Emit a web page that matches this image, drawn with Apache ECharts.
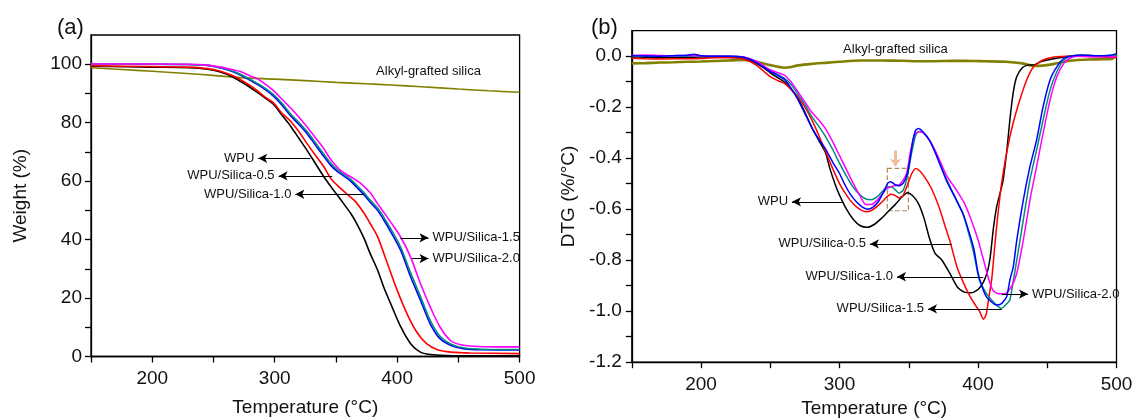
<!DOCTYPE html>
<html>
<head>
<meta charset="utf-8">
<script src="https://cdn.jsdelivr.net/npm/echarts@6/dist/echarts.min.js"></script>
<style>
html,body{margin:0;padding:0;background:#fff;}
#c{width:1137px;height:419px;}
</style>
</head>
<body>
<div id="c"></div>
<script>
// ---------- Panel (a): TGA, Weight (%) vs Temperature ----------
const tgaWPU = [[150,99.3],[200,99.0],[230,98.8],[245,98.3],[255,97.4],[265,95.8],[275,93.4],[285,90.6],[292,88.5],[299,86.3],[306,82.5],[313,78.8],[320,74.5],[326,70.8],[333,66.2],[340,61.6],[347,57.5],[354,53.6],[362,49.0],[367,45.5],[373,40.4],[378,35.2],[384,29.6],[389,23.8],[395,17.8],[403,10.1],[411,4.4],[419,1.5],[427,0.7],[440,0.35],[460,0.25],[500,0.2]];
const tgaS05 = [[150,99.5],[200,99.2],[230,99.0],[245,98.5],[255,97.7],[265,96.2],[275,94.0],[285,91.2],[292,88.8],[299,86.8],[306,83.2],[313,80.5],[320,76.8],[326,73.1],[333,69.0],[340,65.0],[346,60.8],[352,58.2],[359,55.6],[366,53.0],[373,49.0],[378,45.5],[384,41.0],[392,31.9],[400,22.7],[408,14.7],[416,8.4],[424,4.4],[433,2.3],[444,1.5],[460,1.2],[500,1.0]];
const tgaS10 = [[150,100],[200,100],[230,99.9],[245,99.6],[255,98.8],[265,97.6],[272,96.3],[280,94.5],[290,92.0],[299,89.1],[306,86.0],[313,82.4],[320,79.3],[326,76.5],[333,72.5],[340,68.5],[346,65.3],[351,63.3],[356,61.9],[362,60.0],[367,57.9],[373,55.3],[378,52.8],[384,50.0],[389,46.8],[395,42.5],[403,36.2],[411,27.3],[419,19.3],[427,11.2],[435,6.1],[444,3.8],[455,2.6],[470,2.3],[500,2.2]];
const tgaS15 = [[150,100],[200,100],[230,99.9],[245,99.6],[255,98.9],[265,97.8],[272,96.6],[280,94.8],[290,92.4],[299,89.6],[306,86.6],[313,83.0],[320,80.0],[326,77.2],[333,73.3],[340,69.3],[346,66.0],[351,63.9],[356,62.5],[362,60.6],[367,58.6],[373,56.0],[378,53.5],[384,50.8],[389,47.7],[395,43.5],[403,37.3],[411,28.6],[419,20.6],[427,12.4],[435,6.9],[444,4.2],[455,2.9],[470,2.5],[500,2.4]];
const tgaS20 = [[150,100.1],[200,100.1],[230,100],[245,99.7],[255,99.1],[265,98.2],[272,97.5],[280,96.0],[286,95.0],[292,93.3],[299,91.0],[306,88.0],[313,85.0],[320,81.8],[326,78.8],[333,75.0],[340,71.2],[344,68.5],[348,66.2],[354,63.6],[362,61.5],[370,59.3],[378,56.0],[384,52.3],[390,48.8],[395,45.8],[403,40.8],[411,34.0],[419,25.0],[427,17.0],[435,10.1],[444,5.3],[452,4.0],[462,3.5],[480,3.3],[500,3.3]];
const tgaSilica = [[150,98.8],[175,98.2],[200,97.6],[225,96.9],[250,96.2],[272,95.4],[300,94.9],[325,94.4],[350,93.8],[375,93.3],[395,92.9],[420,92.3],[450,91.5],[475,90.9],[500,90.4]];

// ---------- Panel (b): DTG (%/°C) vs Temperature ----------
const dtgWPU = [[150,-0.003],[160,-0.004],[170,-0.006],[180,-0.005],[190,-0.004],[200,-0.003],[210,-0.003],[220,-0.004],[230,-0.008],[235,-0.015],[240,-0.028],[245,-0.045],[250,-0.065],[255,-0.083],[260,-0.1],[265,-0.13],[270,-0.165],[275,-0.22],[280,-0.28],[285,-0.33],[290,-0.38],[293,-0.44],[297,-0.505],[300,-0.545],[305,-0.60],[310,-0.64],[315,-0.665],[320,-0.671],[325,-0.66],[330,-0.637],[335,-0.61],[340,-0.583],[345,-0.552],[349,-0.535],[353,-0.548],[357,-0.578],[361,-0.635],[365,-0.715],[369,-0.773],[374,-0.80],[380,-0.855],[385,-0.905],[390,-0.925],[395,-0.928],[400,-0.915],[404,-0.885],[407,-0.84],[409,-0.78],[411,-0.68],[413.5,-0.59],[418,-0.49],[421,-0.36],[423,-0.25],[425.5,-0.14],[428,-0.08],[432,-0.045],[436,-0.035],[441,-0.033],[445,-0.022],[450,-0.015],[460,-0.005],[470,0.003],[480,0.003],[490,0.0],[500,0.0]];
const dtgS05 = [[150,-0.008],[160,-0.01],[170,-0.011],[180,-0.01],[190,-0.01],[200,-0.009],[210,-0.006],[220,-0.006],[230,-0.01],[235,-0.02],[240,-0.035],[245,-0.058],[250,-0.08],[255,-0.095],[260,-0.106],[265,-0.13],[270,-0.16],[275,-0.2],[280,-0.25],[285,-0.31],[290,-0.375],[295,-0.44],[300,-0.5],[305,-0.545],[310,-0.58],[315,-0.602],[319,-0.61],[323,-0.605],[327,-0.59],[331,-0.57],[334,-0.552],[337,-0.541],[340,-0.546],[343,-0.556],[346,-0.545],[349,-0.505],[352,-0.462],[355,-0.44],[358,-0.45],[362,-0.478],[366,-0.515],[370,-0.565],[373,-0.61],[377,-0.68],[380,-0.73],[385,-0.83],[390,-0.895],[394,-0.94],[398,-0.975],[401,-1.0],[404,-1.032],[406,-1.01],[408,-0.94],[410,-0.87],[412,-0.75],[414,-0.64],[417,-0.5],[421,-0.37],[425,-0.27],[430,-0.175],[435,-0.095],[440,-0.042],[447,-0.015],[455,-0.003],[465,0.0],[475,0.0],[490,-0.003],[500,-0.005]];
const dtgS10 = [[150,0.002],[160,0.001],[170,0.0],[180,0.002],[190,0.004],[195,0.008],[200,0.002],[210,0.0],[220,0.0],[230,-0.003],[235,-0.012],[240,-0.025],[245,-0.042],[250,-0.06],[255,-0.075],[260,-0.09],[265,-0.125],[270,-0.17],[275,-0.225],[280,-0.28],[285,-0.325],[290,-0.365],[295,-0.415],[300,-0.46],[304,-0.505],[308,-0.543],[312,-0.57],[316,-0.59],[320,-0.6],[324,-0.593],[328,-0.57],[332,-0.53],[335,-0.497],[337,-0.492],[340,-0.503],[343,-0.508],[346,-0.498],[349,-0.46],[351,-0.4],[353,-0.33],[355,-0.29],[357,-0.284],[360,-0.295],[365,-0.33],[370,-0.39],[377,-0.485],[383,-0.55],[389,-0.616],[393,-0.68],[397,-0.755],[400,-0.85],[403,-0.905],[406,-0.943],[410,-0.965],[413,-0.976],[417,-0.97],[420.7,-0.943],[423,-0.878],[425.5,-0.825],[428,-0.721],[432.7,-0.564],[437.5,-0.433],[442.3,-0.329],[447,-0.198],[452,-0.093],[457,-0.041],[462,-0.008],[467,0.0],[475,0.005],[485,0.002],[495,0.003],[500,0.01]];
const dtgS15 = [[150,0.0],[170,0.001],[190,0.0],[210,0.001],[230,-0.003],[240,-0.022],[250,-0.055],[260,-0.086],[265,-0.11],[270,-0.15],[275,-0.19],[280,-0.237],[285,-0.275],[290,-0.316],[295,-0.365],[300,-0.42],[305,-0.47],[310,-0.515],[315,-0.545],[319,-0.56],[323,-0.563],[327,-0.552],[331,-0.53],[334,-0.515],[337,-0.512],[340,-0.522],[343,-0.537],[346,-0.525],[349,-0.47],[352,-0.38],[355,-0.31],[357,-0.295],[360,-0.298],[365,-0.33],[370,-0.385],[377,-0.48],[383,-0.548],[389,-0.616],[393,-0.69],[397,-0.775],[401,-0.878],[406,-0.93],[411,-0.963],[414.6,-0.982],[417,-0.989],[420,-0.975],[423,-0.956],[425.5,-0.88],[428,-0.8],[432.7,-0.642],[437.5,-0.485],[442.3,-0.368],[447,-0.25],[452,-0.133],[457,-0.06],[462,-0.015],[467,0.0],[480,0.0],[500,0.005]];
const dtgS20 = [[150,0.004],[160,0.005],[170,0.003],[180,0.002],[190,0.003],[200,0.002],[210,0.0],[220,0.0],[230,-0.002],[240,-0.02],[250,-0.054],[260,-0.074],[265,-0.1],[270,-0.14],[275,-0.18],[280,-0.22],[285,-0.25],[290,-0.285],[295,-0.335],[300,-0.39],[305,-0.445],[310,-0.5],[315,-0.55],[319,-0.582],[323,-0.582],[327,-0.565],[331,-0.54],[334,-0.52],[337,-0.512],[340,-0.508],[343,-0.505],[346,-0.485],[348.5,-0.459],[351,-0.38],[354,-0.31],[357,-0.296],[360,-0.298],[365,-0.33],[370,-0.38],[377,-0.465],[385,-0.53],[390,-0.575],[395,-0.64],[400,-0.72],[405,-0.82],[408,-0.88],[411,-0.92],[415,-0.932],[420,-0.93],[424,-0.905],[428,-0.851],[432.7,-0.721],[437.5,-0.564],[442.3,-0.433],[447,-0.302],[452,-0.172],[457,-0.08],[462,-0.028],[466.4,-0.008],[472,0.0],[485,-0.002],[500,-0.002]];
const dtgSilica = [[150,-0.028],[160,-0.027],[170,-0.025],[180,-0.024],[190,-0.022],[200,-0.021],[210,-0.019],[220,-0.017],[230,-0.015],[240,-0.022],[250,-0.035],[260,-0.045],[265,-0.042],[270,-0.036],[280,-0.03],[290,-0.026],[300,-0.022],[315,-0.017],[330,-0.017],[345,-0.018],[360,-0.02],[375,-0.019],[390,-0.018],[405,-0.02],[420,-0.022],[432,-0.028],[437,-0.035],[442,-0.038],[448,-0.036],[455,-0.03],[462,-0.022],[470,-0.016],[480,-0.013],[490,-0.012],[497,-0.01],[500,0.005]];

// Tick label sets
const xTickLabels = [200, 300, 400, 500];
const weightTickLabels = [0, 20, 40, 60, 80, 100];
const dtgTickLabels = [-1.2, -1.0, -0.8, -0.6, -0.4, -0.2, 0.0];

// Annotation labels: [text, fromX, fromY, toX, toY]
const annotA = [
  ['WPU', 329.1, 67.8, 286.6, 67.8],
  ['WPU/Silica-0.5', 346.9, 61.8, 303.2, 61.8],
  ['WPU/Silica-1.0', 372.7, 55.5, 316.9, 55.5],
  ['WPU/Silica-1.5', 402.7, 40.6, 425.6, 40.6],
  ['WPU/Silica-2.0', 412.3, 33.5, 425.6, 33.5]
];
const annotB = [
  ['WPU', 302.7, -0.571, 265.7, -0.571],
  ['WPU/Silica-0.5', 381.0, -0.736, 322.0, -0.736],
  ['WPU/Silica-1.0', 403.8, -0.865, 341.5, -0.865],
  ['WPU/Silica-1.5', 417.1, -0.991, 363.9, -0.991],
  ['WPU/Silica-2.0', 417.1, -0.933, 436.1, -0.933]
];

const FONT = 'Liberation Sans, Arial, sans-serif';
const COLORS = {wpu:'#000000', s05:'#ff0000', s10:'#0000ff', s15:'#008b80', s20:'#ff00ff', silica:'#808000'};

function annotLines(list) {
  return {
    silent: true, animation: false,
    symbol: ['none', 'arrow'], symbolSize: [7, 9],
    lineStyle: {color: '#000', width: 1, type: 'solid'},
    label: {show: true, position: 'end', formatter: '{b}', color: '#111', fontSize: 13, fontFamily: FONT, distance: 4},
    emphasis: {disabled: true},
    data: list.map(a => [{name: a[0], coord: [a[1], a[2]]}, {coord: [a[3], a[4]]}])
  };
}

function xAxisCfg(idx, nameGap) {
  return {
    gridIndex: idx, type: 'value', min: 150, max: 500, interval: 50,
    name: 'Temperature (°C)', nameLocation: 'middle', nameGap: nameGap,
    nameTextStyle: {fontFamily: FONT, fontSize: 19, color: '#111'},
    axisLine: {onZero: false, lineStyle: {color: '#000', width: 1.3}},
    axisTick: {inside: false, length: 6, lineStyle: {color: '#000', width: 1.3}},
    axisLabel: {fontFamily: FONT, fontSize: 19, color: '#111', margin: 13,
      formatter: v => xTickLabels.indexOf(Math.round(v)) >= 0 ? String(Math.round(v)) : ''},
    splitLine: {show: false}
  };
}

const option = {
  animation: false,
  backgroundColor: '#fff',
  title: [
    {text: '(a)', left: 52, top: 12, textStyle: {fontFamily: FONT, fontSize: 22, fontWeight: 'normal', color: '#111'}},
    {text: '(b)', left: 586, top: 12, textStyle: {fontFamily: FONT, fontSize: 22, fontWeight: 'normal', color: '#111'}}
  ],
  grid: [
    {left: 91, right: 617.4, top: 35, bottom: 62.5, show: true, borderColor: '#000', borderWidth: 1.3, backgroundColor: 'transparent', containLabel: false, outerBoundsMode: 'none'},
    {left: 631.8, right: 20.5, top: 30.7, bottom: 56.8, show: true, borderColor: '#000', borderWidth: 1.3, backgroundColor: 'transparent', containLabel: false, outerBoundsMode: 'none'}
  ],
  xAxis: [xAxisCfg(0, 42), xAxisCfg(1, 37)],
  yAxis: [
    {gridIndex: 0, type: 'value', min: 0, max: 110, interval: 10,
      name: 'Weight (%)', nameLocation: 'middle', nameGap: 61,
      nameTextStyle: {fontFamily: FONT, fontSize: 19, color: '#111'},
      axisLine: {onZero: false, lineStyle: {color: '#000', width: 1.3}},
      axisTick: {inside: false, length: 6, lineStyle: {color: '#000', width: 1.3}},
      axisLabel: {fontFamily: FONT, fontSize: 19, color: '#111', margin: 9, showMaxLabel: false,
        formatter: v => weightTickLabels.indexOf(Math.round(v)) >= 0 ? String(Math.round(v)) : ''},
      splitLine: {show: false}},
    {gridIndex: 1, type: 'value', min: -1.2, max: 0.1, interval: 0.1,
      name: 'DTG (%/°C)', nameLocation: 'middle', nameGap: 54,
      nameTextStyle: {fontFamily: FONT, fontSize: 19, color: '#111'},
      axisLine: {onZero: false, lineStyle: {color: '#000', width: 1.3}},
      axisTick: {inside: false, length: 6, lineStyle: {color: '#000', width: 1.3}},
      axisLabel: {fontFamily: FONT, fontSize: 19, color: '#111', margin: 10, showMaxLabel: false,
        formatter: v => {
          const r = Math.round(v * 10) / 10;
          return dtgTickLabels.some(t => Math.abs(t - r) < 1e-6) ? r.toFixed(1) : '';
        }},
      splitLine: {show: false}}
  ],
  series: [
    {name: 'Alkyl-grafted silica', type: 'line', xAxisIndex: 0, yAxisIndex: 0, data: tgaSilica, showSymbol: false, smooth: 0.3,
      lineStyle: {color: COLORS.silica, width: 1.6}, itemStyle: {color: COLORS.silica},
      markPoint: {silent: true, animation: false, symbol: 'circle', symbolSize: 0,
        label: {show: true, position: 'inside', formatter: 'Alkyl-grafted silica', color: '#111', fontSize: 13, fontFamily: FONT},
        data: [{coord: [425.6, 97.5]}]}},
    {name: 'WPU', type: 'line', xAxisIndex: 0, yAxisIndex: 0, data: tgaWPU, showSymbol: false, smooth: 0.3,
      lineStyle: {color: COLORS.wpu, width: 1.6}, itemStyle: {color: COLORS.wpu}, markLine: annotLines(annotA)},
    {name: 'WPU/Silica-0.5', type: 'line', xAxisIndex: 0, yAxisIndex: 0, data: tgaS05, showSymbol: false, smooth: 0.3,
      lineStyle: {color: COLORS.s05, width: 1.6}, itemStyle: {color: COLORS.s05}},
    {name: 'WPU/Silica-1.0', type: 'line', xAxisIndex: 0, yAxisIndex: 0, data: tgaS10, showSymbol: false, smooth: 0.3,
      lineStyle: {color: COLORS.s10, width: 1.6}, itemStyle: {color: COLORS.s10}},
    {name: 'WPU/Silica-1.5', type: 'line', xAxisIndex: 0, yAxisIndex: 0, data: tgaS15, showSymbol: false, smooth: 0.3,
      lineStyle: {color: COLORS.s15, width: 1.6}, itemStyle: {color: COLORS.s15}},
    {name: 'WPU/Silica-2.0', type: 'line', xAxisIndex: 0, yAxisIndex: 0, data: tgaS20, showSymbol: false, smooth: 0.3,
      lineStyle: {color: COLORS.s20, width: 1.6}, itemStyle: {color: COLORS.s20}},

    {name: 'Alkyl-grafted silica (DTG)', type: 'line', xAxisIndex: 1, yAxisIndex: 1, data: dtgSilica, showSymbol: false, smooth: 0.2,
      lineStyle: {color: COLORS.silica, width: 2.6}, itemStyle: {color: COLORS.silica},
      markPoint: {silent: true, animation: false, symbol: 'circle', symbolSize: 0,
        label: {show: true, position: 'inside', formatter: 'Alkyl-grafted silica', color: '#111', fontSize: 13, fontFamily: FONT},
        data: [{coord: [340.4, 0.027]}]}},
    {name: 'WPU (DTG)', type: 'line', xAxisIndex: 1, yAxisIndex: 1, data: dtgWPU, showSymbol: false, smooth: 0.2,
      lineStyle: {color: COLORS.wpu, width: 1.5}, itemStyle: {color: COLORS.wpu}, markLine: annotLines(annotB)},
    {name: 'WPU/Silica-0.5 (DTG)', type: 'line', xAxisIndex: 1, yAxisIndex: 1, data: dtgS05, showSymbol: false, smooth: 0.2,
      lineStyle: {color: COLORS.s05, width: 1.5}, itemStyle: {color: COLORS.s05}},
    {name: 'WPU/Silica-1.5 (DTG)', type: 'line', xAxisIndex: 1, yAxisIndex: 1, data: dtgS15, showSymbol: false, smooth: 0.2,
      lineStyle: {color: COLORS.s15, width: 1.5}, itemStyle: {color: COLORS.s15}},
    {name: 'WPU/Silica-2.0 (DTG)', type: 'line', xAxisIndex: 1, yAxisIndex: 1, data: dtgS20, showSymbol: false, smooth: 0.2,
      lineStyle: {color: COLORS.s20, width: 1.5}, itemStyle: {color: COLORS.s20}},
    {name: 'WPU/Silica-1.0 (DTG)', type: 'line', xAxisIndex: 1, yAxisIndex: 1, data: dtgS10, showSymbol: false, smooth: 0.2,
      lineStyle: {color: COLORS.s10, width: 1.5}, itemStyle: {color: COLORS.s10},
      markArea: {silent: true, animation: false,
        itemStyle: {color: 'rgba(0,0,0,0)', borderColor: '#b08a50', borderWidth: 1.2, borderType: 'dashed'},
        data: [[{coord: [334.5, -0.44]}, {coord: [349.7, -0.606]}]]},
      markLine: {silent: true, animation: false, symbol: ['none', 'arrow'], symbolSize: [9, 7],
        lineStyle: {color: '#f2bb9c', width: 3, type: 'solid'}, label: {show: false},
        data: [[{coord: [340.5, -0.37]}, {coord: [340.5, -0.43]}]]}}
  ]
};

const chart = echarts.init(document.getElementById('c'), null, {renderer: 'canvas'});
chart.setOption(option);
</script>
</body>
</html>
